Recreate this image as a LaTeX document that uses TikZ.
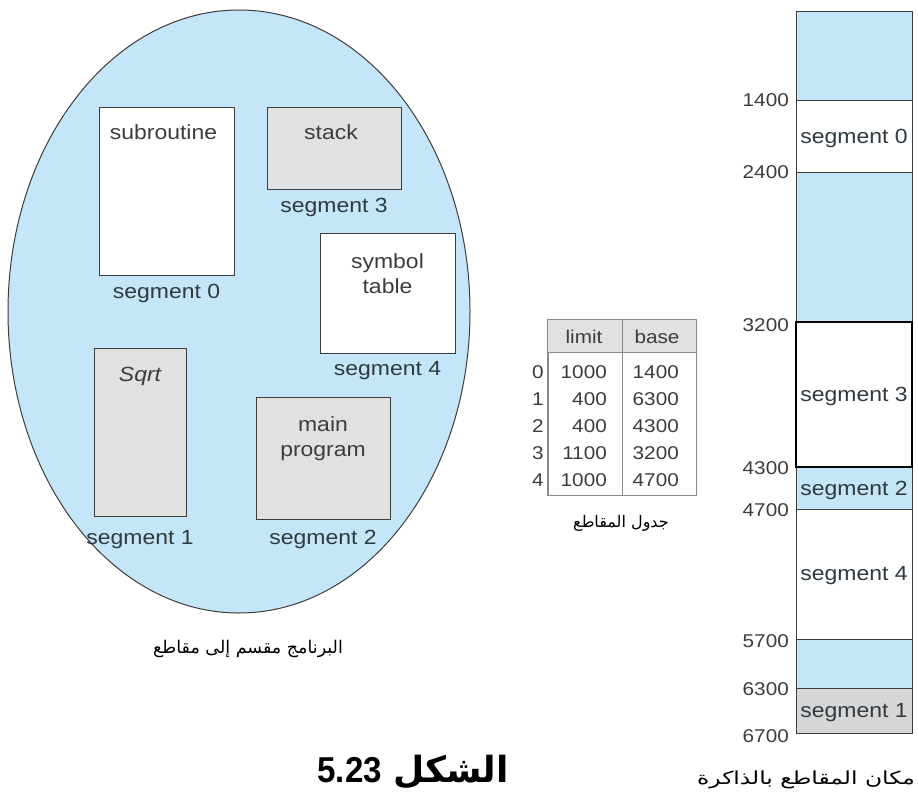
\documentclass[tikz,border=0pt]{standalone}
\usepackage{fontspec}
\setmainfont{Liberation Sans}[FakeStretch=1.12]
\newfontfamily\titlefont{Liberation Sans}[FakeStretch=0.92]
\newfontfamily\arabicfont[Script=Arabic]{DejaVu Sans}
\newfontfamily\arabicwide[Script=Arabic,FakeStretch=1.3]{DejaVu Sans}
\TeXXeTstate=1
\usetikzlibrary{positioning,shapes.geometric}
\definecolor{ink}{HTML}{3C3C3C}
\definecolor{sky}{HTML}{C4E6F8}
\definecolor{ash}{HTML}{E1E1E1}
\definecolor{ashdark}{HTML}{D6D6D6}
\definecolor{slate}{HTML}{2E3A40}
\definecolor{rule}{HTML}{8A8A8A}
\tikzset{
 seg/.style={draw=ink,line width=.9pt,inner sep=0pt},
 boxtext/.style={font=\fontsize{20.5}{25}\selectfont,text=ink,align=center,inner sep=0pt},
 seglbl/.style={font=\fontsize{20.5}{25}\selectfont,text=slate,inner sep=0pt},
 tab/.style={font=\fontsize{18.5}{22}\selectfont,text=ink,inner sep=0pt},
 arab/.style={font=\arabicfont\fontsize{15}{18}\selectfont,text=black,inner sep=0pt}
}

\begin{document}
\begin{tikzpicture}[x=1pt,y=-1pt]
  \useasboundingbox (0,0) rectangle (918,798);

  % program split into segments
  \node[ellipse,draw=ink,fill=sky,line width=1pt,minimum width=462pt,minimum height=603pt] (prog) at (239,311.5) {};
  \node[seg,fill=white,minimum width=135pt,minimum height=168pt] (sub) at (166.5,191) {};
  \node[seg,fill=ash,minimum width=134pt,minimum height=82pt] (stack) at (334,148) {};
  \node[seg,fill=white,minimum width=135pt,minimum height=120pt] (sym) at (387.5,293) {};
  \node[seg,fill=ash,minimum width=92pt,minimum height=168pt] (sqrt) at (140,432) {};
  \node[seg,fill=ash,minimum width=134pt,minimum height=122pt] (main) at (323,458) {};

  \node[boxtext] at ([xshift=-3pt,yshift=-26pt]sub.north) {subroutine};
  \node[boxtext] at ([xshift=-3pt,yshift=-26pt]stack.north) {stack};
  \node[boxtext] at ([yshift=-41.5pt]sym.north) {symbol\\table};
  \node[boxtext] at ([yshift=-29pt]sqrt.north) {\itshape Sqrt};
  \node[boxtext] at ([yshift=-42pt]main.north) {main\\program};

  \node[seglbl,below=9pt of sub] (lsub) {segment 0};
  \node[seglbl,below=9pt of stack] (lstack) {segment 3};
  \node[seglbl,below=8pt of sym] (lsym) {segment 4};
  \node[seglbl,below=14pt of sqrt] (lsqrt) {segment 1};
  \node[seglbl,below=11pt of main] (lmain) {segment 2};

  \node[arab,font=\arabicfont\fontsize{17.5}{20}\selectfont] (progcap) at (248,649) {\beginR البرنامج مقسم إلى مقاطع\endR};

  % segment table
  \node[draw=rule,line width=1pt,minimum width=148pt,minimum height=175pt,inner sep=0pt] (tbl) at (622,407.5) {};
  \fill[ash] (tbl.north west) rectangle ([yshift=-33pt]tbl.north east);
  \draw[rule,line width=1pt] (tbl.north west) rectangle (tbl.south east);
  \draw[rule,line width=1.5pt] ([yshift=-33pt]tbl.north west) -- ([yshift=-33pt]tbl.north east);
  \draw[rule,line width=1pt] (tbl.north) -- (tbl.south);
  \node[tab] (hlim) at (584,337) {limit};
  \node[tab] (hbase) at (657,337) {base};
  \foreach \r/\lim/\bas in {0/1000/1400,1/400/6300,2/400/4300,3/1100/3200,4/1000/4700}{
    \node[tab] (idx\r) at (538,{372+27*\r}) {\r};
    \node[tab,anchor=east] (lim\r) at (607,{372+27*\r}) {\lim};
    \node[tab,anchor=east] (bas\r) at (679,{372+27*\r}) {\bas};
  }
  \node[arab,font=\arabicfont\fontsize{16}{19}\selectfont] (tblcap) at (621,523) {\beginR جدول المقاطع\endR};

  % physical memory
  \foreach \t/\b/\c/\txt [count=\k] in {11/100/sky/,100/172/white/segment 0,172/322/sky/,322/467/white/segment 3,467/509/sky/segment 2,509/639/white/segment 4,639/688/sky/,688/733/ashdark/segment 1}{
    \draw[draw=ink,fill=\c,line width=.9pt] (796,\t) rectangle (912,\b);
    \node[seglbl] (mem\k) at (854,{(\t+\b)/2+2}) {\txt};
  }
  \draw[black,line width=1.6pt] (796,322) rectangle (912,467);
  \foreach \a/\y in {1400/100,2400/172,3200/325,4300/468,4700/510,5700/641,6300/689,6700/736}{
    \node[tab,anchor=east] (addr\a) at (789,\y) {\a};
  }
  \node[arab,anchor=east,font=\arabicwide\fontsize{18}{21}\selectfont] (memcap) at (915,780) {\beginR مكان المقاطع بالذاكرة\endR};

  \node[font=\fontsize{36}{40}\selectfont\bfseries] (title) at (413,772) {{\titlefont 5.23} {\arabicfont\beginR الشكل\endR}};
\end{tikzpicture}
\end{document}
